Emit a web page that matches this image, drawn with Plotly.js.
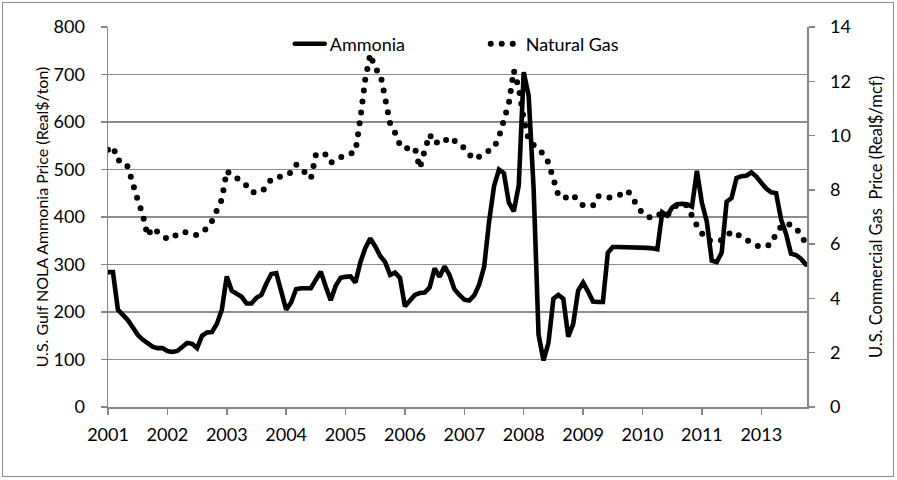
<!DOCTYPE html>
<html>
<head>
<meta charset="utf-8">
<script src="https://cdn.plot.ly/plotly-3.0.1.min.js"></script>
<style>
  html, body { margin: 0; padding: 0; background: #fff; }
  #wrap { position: relative; width: 897px; height: 480px; }
  #chart { position: absolute; left: 0; top: 0; width: 897px; height: 480px; }
  #frame { position: absolute; left: 2px; top: 2px; width: 892px; height: 475px; box-sizing: border-box; border: 1px solid #8a8a8a; pointer-events: none; }
  .js-line { stroke-linecap: round !important; }
</style>
</head>
<body>
<div id="wrap"><div id="chart"></div><div id="frame"></div></div>
<script>
// Monthly series starting January 2001
const startYear = 2001;

const ammonia = [
  284, 284, 205, 195, 183, 168, 152, 142, 133, 127, 124, 124,
  118, 116, 118, 128, 135, 133, 124, 150, 157, 158, 175, 205,
  275, 245, 238, 232, 218, 218, 230, 236, 260, 280, 282, 245,
  205, 220, 248, 250, 250, 250, 268, 285, 253, 225, 255, 272,
  274, 275, 262, 305, 335, 355, 338, 318, 305, 278, 283, 272,
  212, 225, 236, 240, 241, 252, 292, 274, 296, 278, 248, 236,
  226, 224, 235, 258, 295, 390, 465, 500, 492, 430, 412, 467,
  705, 655, 460, 152, 98, 135, 228, 236, 228, 148, 175, 245,
  262, 243, 222, 221, 221, 325, 337, 337, 337, 337, 336, 336,
  336, 335, 334, 332, 410, 403, 420, 427, 428, 427, 422, 497,
  430, 390, 308, 305, 325, 432, 440, 482, 486, 487, 494, 485,
  472, 460, 452, 450, 395, 365, 323, 320, 312, 300
];

const naturalGas = [
  9.48, 9.60, 9.08, 9.07, 8.85, 8.15, 7.63, 7.10, 6.30, 6.60, 6.42, 6.30,
  6.20, 6.20, 6.38, 6.44, 6.44, 6.40, 6.33, 6.45, 6.58, 6.85, 7.25, 7.65,
  8.70, 8.52, 8.43, 8.33, 8.15, 7.91, 7.92, 7.93, 8.10, 8.40, 8.45, 8.50,
  8.53, 8.65, 8.94, 8.75, 8.62, 8.42, 9.30, 9.38, 9.30, 9.00, 9.10, 9.25,
  9.30, 9.33, 9.40, 10.65, 12.10, 13.00, 12.45, 12.30, 11.25, 10.45, 10.10, 9.65,
  9.50, 9.57, 9.55, 8.80, 9.45, 10.04, 9.70, 9.80, 9.90, 9.70, 9.80, 9.75,
  9.50, 9.30, 9.12, 9.20, 9.32, 9.45, 9.55, 9.95, 10.50, 11.20, 12.40, 11.75,
  10.60, 9.85, 9.65, 9.52, 9.30, 9.00, 8.40, 7.80, 7.68, 7.75, 7.82, 7.55,
  7.43, 7.41, 7.42, 7.77, 7.75, 7.70, 7.75, 7.80, 7.85, 7.97, 7.70, 7.35,
  7.12, 7.02, 6.95, 7.05, 7.15, 7.05, 7.30, 7.45, 7.47, 7.42, 7.00, 6.68,
  6.40, 6.15, 6.12, 6.12, 6.15, 6.30, 6.47, 6.38, 6.29, 6.15, 6.05, 5.95,
  5.89, 5.93, 5.99, 6.40, 6.65, 6.77, 6.70, 6.62, 6.30, 6.05
];

const tickYears = [2001, 2002, 2003, 2004, 2005, 2006, 2007, 2008, 2009, 2010, 2011, 2012];
const tickLabels = ['2001', '2002', '2003', '2004', '2005', '2006', '2007', '2008', '2009', '2010', '2011', '2013'];

const seriesNames = ['Ammonia', 'Natural Gas'];
const leftTitle = 'U.S. Gulf NOLA Ammonia Price (Real$/ton)';
const rightTitle = 'U.S. Commercial Gas \u00a0Price (Real$/mcf)';

const months = ammonia.map((_, i) => startYear + i / 12);

const FONT = 'Lato, "Open Sans", "Liberation Sans", sans-serif';
const AX = '#868686';

const traces = [
  {
    x: months, y: ammonia, name: seriesNames[0], type: 'scatter', mode: 'lines',
    line: { color: '#000000', width: 4.6 }, yaxis: 'y', hoverinfo: 'skip'
  },
  {
    x: months, y: naturalGas, name: seriesNames[1], type: 'scatter', mode: 'lines',
    line: { color: '#000000', width: 6, dash: '0px,11px' }, yaxis: 'y2', hoverinfo: 'skip'
  }
];

const layout = {
  width: 897, height: 480,
  margin: { l: 108, r: 90, t: 27, b: 73 },
  paper_bgcolor: '#ffffff', plot_bgcolor: '#ffffff',
  font: { family: FONT, size: 18, color: '#000000' },
  showlegend: true,
  legend: {
    orientation: 'h', x: 0.26, y: 0.955, xanchor: 'left', yanchor: 'middle',
    bgcolor: 'rgba(0,0,0,0)', font: { family: FONT, size: 18, color: '#000' },
    entrywidth: 151, traceorder: 'normal'
  },
  xaxis: {
    range: [2001, 2012.77], tickmode: 'array', tickvals: tickYears, ticktext: tickLabels,
    ticks: 'outside', ticklen: 6, tickwidth: 1.5, tickcolor: AX,
    showline: true, linecolor: AX, linewidth: 1.5,
    showgrid: false, zeroline: false, ticklabelstandoff: 5,
    tickfont: { family: FONT, size: 18, color: '#000' }
  },
  yaxis: {
    range: [0, 800], dtick: 100, ticks: 'outside', ticklen: 6, tickwidth: 1.5, tickcolor: AX,
    showline: true, linecolor: AX, linewidth: 1.5,
    showgrid: true, gridcolor: '#8c8c8c', gridwidth: 1.4, zeroline: false,
    ticklabelstandoff: 12,
    tickfont: { family: FONT, size: 18, color: '#000' },
    title: { text: leftTitle, font: { family: FONT, size: 16, color: '#000' }, standoff: 1 }
  },
  yaxis2: {
    overlaying: 'y', side: 'right', range: [0, 14], dtick: 2,
    ticks: 'outside', ticklen: 6, tickwidth: 1.5, tickcolor: AX,
    showline: true, linecolor: AX, linewidth: 1.5,
    showgrid: false, zeroline: false, ticklabelstandoff: 12,
    tickfont: { family: FONT, size: 18, color: '#000' },
    title: { text: rightTitle, font: { family: FONT, size: 16.5, color: '#000' }, standoff: 20 }
  }
};

Plotly.newPlot('chart', traces, layout, { displayModeBar: false, staticPlot: true });
</script>
</body>
</html>
